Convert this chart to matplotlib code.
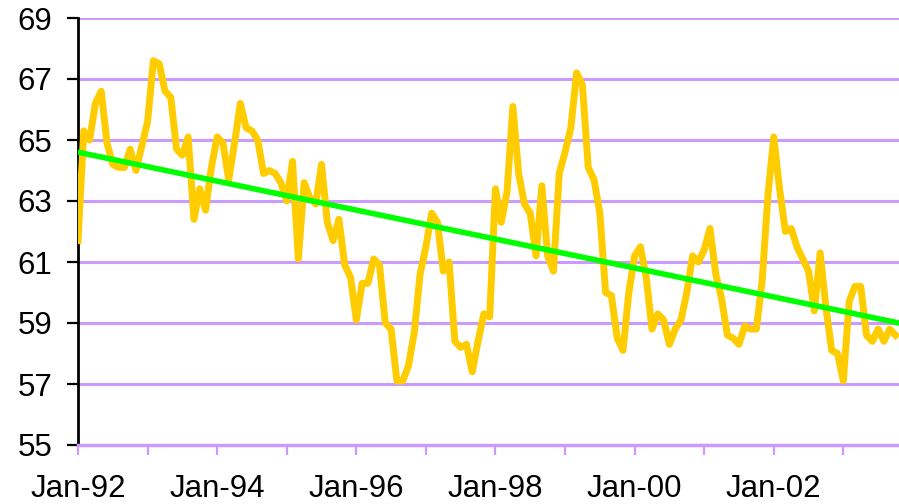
import matplotlib.pyplot as plt

plt.rcParams["font.family"] = ["Liberation Sans", "DejaVu Sans"]

# monthly index, Jan 1992 = 0
values = [
    61.7, 65.3, 65.0, 66.2, 66.6, 64.9, 64.2, 64.1, 64.1, 64.7, 64.0, 64.8,
    65.6, 67.6, 67.5, 66.6, 66.4, 64.7, 64.5, 65.1, 62.4, 63.4, 62.7, 64.1,
    65.1, 64.9, 63.7, 64.9, 66.2, 65.4, 65.3, 65.0, 63.9, 64.0, 63.9, 63.6,
    63.0, 64.3, 61.1, 63.6, 63.1, 62.9, 64.2, 62.3, 61.7, 62.4, 60.9, 60.5,
    59.1, 60.3, 60.3, 61.1, 60.9, 59.0, 58.8, 57.1, 57.1, 57.6, 58.7, 60.6,
    61.5, 62.6, 62.3, 60.7, 61.0, 58.4, 58.2, 58.3, 57.4, 58.4, 59.3, 59.2,
    63.4, 62.3, 63.3, 66.1, 63.9, 62.9, 62.6, 61.2, 63.5, 61.2, 60.7, 63.9,
    64.6, 65.4, 67.2, 66.8, 64.1, 63.7, 62.6, 60.0, 59.9, 58.5, 58.1, 60.0,
    61.2, 61.5, 60.5, 58.8, 59.3, 59.1, 58.3, 58.8, 59.1, 60.0, 61.2, 61.0,
    61.4, 62.1, 60.6, 59.8, 58.6, 58.5, 58.3, 58.9, 58.8, 58.8, 60.4, 63.2,
    65.1, 63.4, 62.0, 62.1, 61.5, 61.1, 60.7, 59.4, 61.3, 59.5, 58.1, 58.0,
    57.1, 59.7, 60.2, 60.2, 58.6, 58.4, 58.8, 58.4, 58.8, 58.6,
]
months = list(range(len(values)))

# straight trend line end points
trend_x = [0, 141.6]
trend_y = [64.6, 59.0]

tick_pos = [0, 24, 48, 72, 96, 120]
tick_labels = ["Jan-92", "Jan-94", "Jan-96", "Jan-98", "Jan-00", "Jan-02"]
year_pos = [12, 36, 60, 84, 108, 132]
y_ticks = [55, 57, 59, 61, 63, 65, 67, 69]

purple = "#CC99FF"

fig = plt.figure(figsize=(8.99, 5.04), dpi=100)
ax = fig.add_axes([78 / 899, 59 / 504, 821 / 899, 427 / 504])

for y in y_ticks[1:]:
    ax.axhline(y, color=purple, lw=2.2, zorder=1)

ax.plot(months, values, color="#FFCC00", lw=5.0, solid_joinstyle="round", zorder=3)
ax.plot(trend_x, trend_y, color="#00FF00", lw=4.0, zorder=4)

ax.set_xlim(0, 141.6)
ax.set_ylim(55, 69)

ax.set_yticks(y_ticks)
ax.set_yticklabels([str(v) for v in y_ticks])
ax.set_xticks(tick_pos)
ax.set_xticklabels(tick_labels)
ax.set_xticks(year_pos, minor=True)

for side in ["top", "right"]:
    ax.spines[side].set_visible(False)
ax.spines["left"].set_color("black")
ax.spines["left"].set_linewidth(2.0)
ax.spines["bottom"].set_color(purple)
ax.spines["bottom"].set_linewidth(2.5)

ax.tick_params(axis="y", direction="out", length=8, width=1.6, color="black",
               labelsize=22.5, pad=10.5)
ax.tick_params(axis="x", which="both", direction="out", length=7, width=1.6,
               color=purple, labelsize=22.5, pad=14)

fig.savefig("out.png", dpi=100)
